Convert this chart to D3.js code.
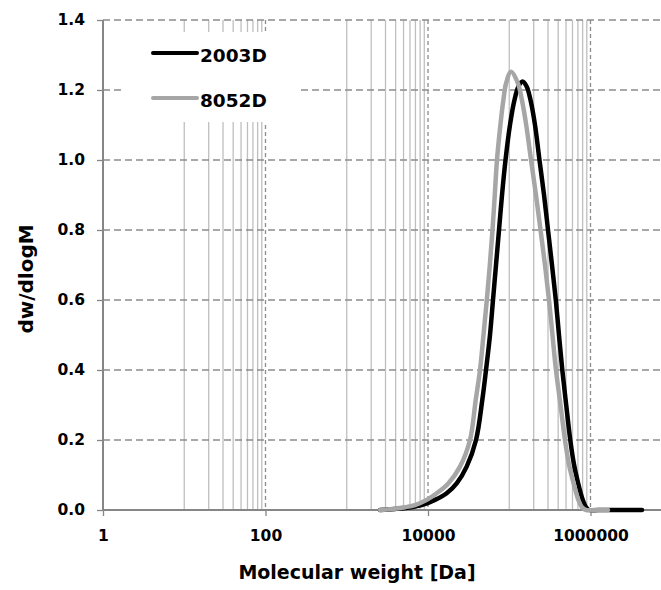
<!DOCTYPE html>
<html lang="en">
<head>
<meta charset="UTF-8">
<title>dw/dlogM</title>
<script src="https://d3js.org/d3.v7.min.js"></script>
<style>
  body { margin: 0; background: #fff; }
  text { font-family: "DejaVu Sans", sans-serif; font-weight: bold; fill: #000; }
</style>
</head>
<body>
<div id="chart"></div>
<script>
// log10 of molecular weight [Da] and dw/dlogM
const logM2003 = [3.409, 3.594, 3.799, 3.922, 4.086, 4.230, 4.353, 4.476, 4.591, 4.668, 4.714, 4.763, 4.800, 4.837, 4.874, 4.911, 4.954, 5.009, 5.063, 5.113, 5.163, 5.214, 5.263, 5.317, 5.372, 5.428, 5.477, 5.526, 5.573, 5.612, 5.653, 5.701, 5.751, 5.797, 5.838, 5.904, 5.945, 5.982, 6.1, 6.634];
const dw2003   = [0, 0.003, 0.008, 0.014, 0.029, 0.048, 0.076, 0.124, 0.2, 0.314, 0.4, 0.5, 0.6, 0.7, 0.8, 0.9, 1.0, 1.1, 1.17, 1.21, 1.224, 1.21, 1.17, 1.1, 1.0, 0.9, 0.8, 0.7, 0.6, 0.5, 0.4, 0.3, 0.2, 0.13, 0.086, 0.029, 0.008, 0, 0, 0];
const logM8052 = [3.409, 3.557, 3.717, 3.840, 3.984, 4.107, 4.250, 4.394, 4.517, 4.587, 4.640, 4.683, 4.724, 4.761, 4.794, 4.822, 4.849, 4.891, 4.927, 4.962, 5.022, 5.105, 5.157, 5.209, 5.268, 5.329, 5.385, 5.440, 5.489, 5.532, 5.575, 5.631, 5.686, 5.735, 5.781, 5.850, 5.895, 5.945, 6.05, 6.215];
const dw8052   = [0, 0.003, 0.008, 0.014, 0.029, 0.048, 0.076, 0.124, 0.2, 0.314, 0.4, 0.5, 0.6, 0.7, 0.8, 0.9, 1.0, 1.1, 1.17, 1.22, 1.252, 1.22, 1.17, 1.1, 1.0, 0.9, 0.8, 0.7, 0.6, 0.5, 0.4, 0.3, 0.2, 0.13, 0.086, 0.029, 0.008, 0, 0, 0];

const seriesNames = ["2003D", "8052D"];
const seriesColors = ["#000000", "#a6a6a6"];
const xTicks = [1, 100, 10000, 1000000];
const yTicks = [0, 0.2, 0.4, 0.6, 0.8, 1.0, 1.2, 1.4];

const W = 661, H = 590;
const m = { left: 103, right: 661, top: 20, bottom: 510 };

const svg = d3.select("#chart").append("svg")
  .attr("width", W).attr("height", H);

// log axis, 2 decades per major tick, plot is cut at the right edge
const x = d3.scaleLog()
  .domain([1, Math.pow(10, (m.right - m.left) / 81.25)])
  .range([m.left, m.right]);
const y = d3.scaleLinear().domain([0, 1.4]).range([m.bottom, m.top]);

// minor grid: 10..90, 1000..9000, 100000..900000
const minor = [];
[10, 1000, 100000].forEach(b => { for (let k = 1; k <= 9; k++) minor.push(b * k); });

const grid = svg.append("g");
grid.selectAll(".minor").data(minor).enter().append("line")
  .attr("x1", d => x(d)).attr("x2", d => x(d))
  .attr("y1", m.top).attr("y2", m.bottom)
  .attr("stroke", "#bfbfbf").attr("stroke-width", 1.3);

grid.selectAll(".hmaj").data(yTicks.slice(1)).enter().append("line")
  .attr("x1", m.left).attr("x2", m.right)
  .attr("y1", d => y(d)).attr("y2", d => y(d))
  .attr("stroke", "#8c8c8c").attr("stroke-width", 1.3)
  .attr("stroke-dasharray", "7,4");

grid.selectAll(".vmaj").data(xTicks.slice(1)).enter().append("line")
  .attr("x1", d => x(d)).attr("x2", d => x(d))
  .attr("y1", m.top).attr("y2", m.bottom)
  .attr("stroke", "#8c8c8c").attr("stroke-width", 1.3)
  .attr("stroke-dasharray", "4,3");

// axes
const yAxis = svg.append("g").attr("transform", `translate(${m.left},0)`)
  .call(d3.axisLeft(y).tickValues(yTicks).tickFormat(d3.format(".1f")).tickSize(6).tickPadding(12));
const xAxis = svg.append("g").attr("transform", `translate(0,${m.bottom})`)
  .call(d3.axisBottom(x).tickValues(xTicks).tickFormat(d3.format("d")).tickSize(6).tickPadding(14));
[yAxis, xAxis].forEach(a => {
  a.select(".domain").attr("stroke", "#868686").attr("stroke-width", 2);
  a.selectAll(".tick line").attr("stroke", "#868686").attr("stroke-width", 1.3);
  a.selectAll(".tick text").attr("font-size", 15.5).attr("font-family", "DejaVu Sans").attr("font-weight", "bold").attr("fill", "#000");
});
yAxis.select(".domain").attr("d", `M0,${m.bottom}V${m.top}`);
xAxis.select(".domain").attr("d", `M${m.left},0H${m.right}`);

// legend box (white, hides grid behind it)
svg.append("rect")
  .attr("x", 122).attr("y", 32).attr("width", 175).attr("height", 90)
  .attr("fill", "#fff");

// series
const line = d3.line()
  .x(d => x(Math.pow(10, d[0])))
  .y(d => y(d[1]))
  .curve(d3.curveCatmullRom.alpha(0.5));
const series = [d3.zip(logM2003, dw2003), d3.zip(logM8052, dw8052)];
series.forEach((s, i) => {
  svg.append("path").datum(s)
    .attr("d", line)
    .attr("fill", "none")
    .attr("stroke", seriesColors[i])
    .attr("stroke-width", 4.5)
    .attr("stroke-linejoin", "round")
    .attr("stroke-linecap", "round");
});

// legend
const leg = svg.append("g");
seriesNames.forEach((n, i) => {
  const ly = 53 + i * 45;
  leg.append("line")
    .attr("x1", 153).attr("x2", 197).attr("y1", ly).attr("y2", ly)
    .attr("stroke", seriesColors[i]).attr("stroke-width", 4).attr("stroke-linecap", "round");
  leg.append("text").attr("x", 200).attr("y", ly + 9).attr("font-size", 18.5).text(n);
});

// titles
svg.append("text")
  .attr("x", 357).attr("y", 579).attr("text-anchor", "middle")
  .attr("font-size", 19).text("Molecular weight [Da]");
svg.append("text")
  .attr("transform", "translate(33,279) rotate(-90)")
  .attr("text-anchor", "middle")
  .attr("font-size", 20).text("dw/dlogM");
</script>
</body>
</html>
